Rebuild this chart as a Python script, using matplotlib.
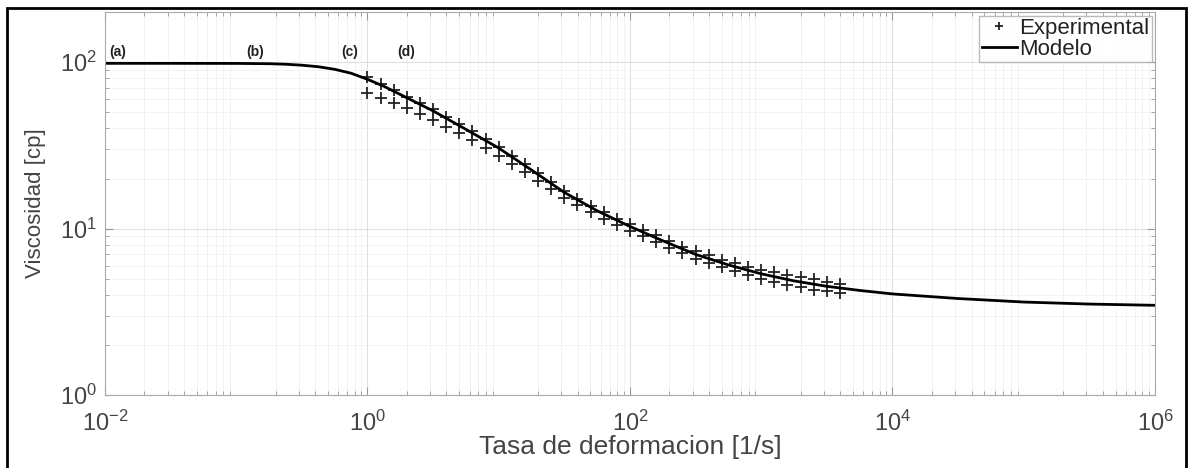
import numpy as np
from matplotlib import pyplot as plt
from matplotlib.patches import Rectangle

plt.rcParams['font.family'] = ['Liberation Sans', 'DejaVu Sans']
plt.rcParams['mathtext.fontset'] = 'custom'
plt.rcParams['mathtext.rm'] = 'Liberation Sans'

# modelo
x_mod = [1e-2, 10**-1.5, 1e-1, 10**-0.75, 10**-0.625, 10**-0.5, 10**-0.375, 10**-0.25,
         10**-0.125, 1e0, 10**0.125, 10**0.25, 10**0.5, 10**0.75, 1e1, 10**1.25, 10**1.5,
         10**1.75, 1e2, 10**2.25, 10**2.5, 10**2.75, 1e3, 10**3.25, 10**3.5, 10**3.75,
         1e4, 10**4.5, 1e5, 10**5.5, 1e6]
y_mod = [98.5, 98.5, 98.4, 98, 97.3, 96, 94, 90.7, 85.9, 79, 71.7, 64, 51, 39.5, 30.5,
         22.5, 16.5, 12.8, 10.3, 8.45, 7.0, 6.05, 5.35, 4.85, 4.5, 4.25, 4.05, 3.8, 3.62,
         3.52, 3.46]

# experimental
x_exp = [10 ** (i / 10) for i in range(37)]
y_exp1 = [82, 74, 68, 62, 57, 52, 47, 42.5, 38.5, 34.5, 31, 27.5, 24.5, 21.6, 19, 16.8,
          15.1, 13.7, 12.5, 11.5, 10.6, 9.8, 9.1, 8.4, 7.8, 7.3, 6.9, 6.5, 6.2, 5.9,
          5.65, 5.45, 5.25, 5.1, 4.95, 4.8, 4.65]
y_exp2 = [65, 61, 57, 53, 49, 45, 41, 37.5, 34, 30.5, 27.5, 24.5, 21.8, 19.4, 17.2, 15.3,
          13.8, 12.5, 11.4, 10.5, 9.7, 9.0, 8.3, 7.7, 7.1, 6.6, 6.2, 5.85, 5.55, 5.25,
          5.0, 4.8, 4.6, 4.45, 4.3, 4.2, 4.1]

zonas = ["(a)", "(b)", "(c)", "(d)"]
x_zonas = [0.0126, 0.139, 0.736, 1.96]

fig = plt.figure(figsize=(11.9, 4.68), dpi=100)
ax = fig.add_axes([0.0882, 0.156, 0.8824, 0.818])

ax.plot(x_exp + x_exp, y_exp1 + y_exp2, linestyle="none", marker="+", color="#222222",
        markersize=9, markeredgewidth=1.3, label="Experimental")
ax.plot(x_mod, y_mod, color="black", linewidth=2, label="Modelo")

for t, xz in zip(zonas, x_zonas):
    ax.text(xz, 116, t, ha="center", va="center", fontsize=10, fontweight="bold", color="#222222")

ax.set_xscale("log")
ax.set_yscale("log")
ax.set_xlim(1e-2, 1e6)
ax.set_ylim(1, 200)
ax.set_xticks([1e-2, 1e0, 1e2, 1e4, 1e6])
ax.set_yticks([1e0, 1e1, 1e2])
ax.grid(True, which="major", color="#e0e0e0", linewidth=0.8)
ax.grid(True, which="minor", color="#f0f0f0", linewidth=0.6)
ax.tick_params(which="both", direction="in", colors="#999999", labelcolor="#444444",
               labelsize=17, top=True, right=True)
ax.tick_params(axis="x", pad=11)
ax.tick_params(axis="y", pad=6)
ax.tick_params(which="major", length=6)
ax.tick_params(which="minor", length=3)
for s in ax.spines.values():
    s.set_color("#aaaaaa")

ax.set_xlabel("Tasa de deformacion [1/s]", fontsize=19, color="#444444", labelpad=0)
ax.set_ylabel("Viscosidad [cp]", fontsize=16, color="#444444", labelpad=10)

leg = ax.legend(loc="upper right", fontsize=16, frameon=True, fancybox=False,
                borderpad=0.1, handlelength=1.6, handletextpad=0.1, labelspacing=0.0,
                borderaxespad=0.15, markerscale=0.7)
leg.get_frame().set_edgecolor("#aaaaaa")
leg.get_frame().set_linewidth(1.0)
plt.setp(leg.get_texts(), color="#222222")

fig.patches.append(Rectangle((0.006, -0.02), 0.9906, 1.003, transform=fig.transFigure,
                             fill=False, edgecolor="black", linewidth=2))

fig.savefig("out.png", dpi=100)
